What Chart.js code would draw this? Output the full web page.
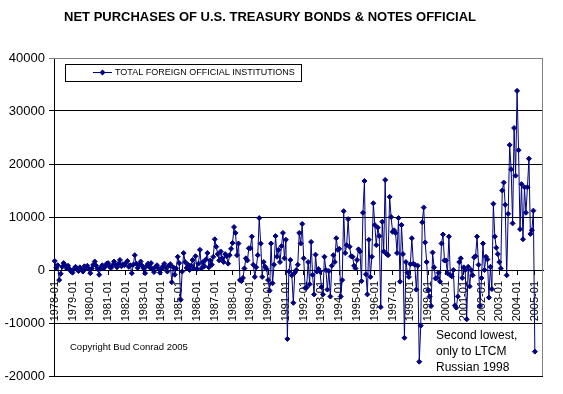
<!DOCTYPE html>
<html>
<head>
<meta charset="utf-8">
<script src="https://cdn.jsdelivr.net/npm/chart.js@4.4.0/dist/chart.umd.min.js"></script>
<style>
    html, body { margin: 0; padding: 0; background: #fff; }
    #wrap { width: 563px; height: 394px; }
</style>
</head>
<body>
<div id="wrap"><canvas id="chart1" width="563" height="394"></canvas></div>
<script>
var titulo = 'NET PURCHASES OF U.S. TREASURY BONDS & NOTES OFFICIAL';
var nomeSerie = 'TOTAL FOREIGN OFFICIAL INSTITUTIONS';
var copyright = 'Copyright Bud Conrad 2005';
var nota = ['Second lowest,', 'only to LTCM', 'Russian 1998'];

var primeiroAno = 1978;
var totalCategorias = 330; // o eixo do Excel segue alguns meses depois do ultimo dado
var yMin = -20000;
var yMax = 40000;
var yPasso = 10000;

// compras liquidas mensais (US$ milhoes), uma linha por ano, 1978-01 .. 2005-01
var compras = [
    1700, 400, 900, -1900, -700, 600, 1300, 900, 300, 800, 200, -300,
    -500, 200, 600, 300, -200, 500, 100, -300, 700, 300, 800, 200,
    -600, 300, 1000, 1600, 800, 200, -900, 400, 900, 300, 700, 1200,
    1300, 600, 400, 900, 1600, 1000, 500, 1200, 1900, 700, 1100, 900,
    1300, 1700, 600, 900, -600, 1000, 2800, 1200, 400, 1000, 1600, 800,
    300, -600, 800, 1200, 500, 1300, 200, -400, 600, 900, 300, -500,
    200, 700, 1200, 400, -300, 800, 1100, -2300, 500, -900, 300, 2500,
    1300, -5600, -300, 3200, 1500, 400, 1000, 0, 800, 1900, 300, 2600,
    200, 1200, 3800, 300, 1500, 700, 2000, 3200, 500, 1800, 1000, 2500,
    5800, 4400, 3000, 1800, 3500, 2200, 1500, 3000, 2600, 1200, 2800, 4000,
    5100, 8100, 7000, 2800, 5000, -1900, -2100, -1500, 300, 2200, 1800, 4100,
    4100, 6300, 1000, -1300, 500, 2800, 9800, 5000, -1300, 1500, 600, 200,
    -1900, -3900, 5000, -2500, 1000, 6400, 2500, 3800, 1500, 4500, 7000, 2200,
    5700, -13000, -300, 1900, -1000, -6200, -500, 0, 1000, 7000, 5000, 8700,
    2200, -3400, -3300, 1500, -2700, 5300, -900, -4600, 2900, -300, 200, -300,
    -3200, -4600, 2500, 0, -3700, -200, -5000, 800, 2800, 1500, 6000, 3800,
    4000, -5000, -1900, 11100, 3200, 4700, 9600, 4400, 2600, 2500, 800, 300,
    1900, 3900, 3500, -2100, 10800, 16800, -800, -4600, 5700, -1300, 2500, 12600,
    8500, 4700, 8000, 6400, -7000, 9100, 3500, 17000, 3000, 2800, 13800, 10000,
    7200, 7500, 7000, 3200, 9800, -2200, 8500, 3000, -12800, 1500, -500, -1300,
    1100, 6000, 1200, 1000, -3700, 800, -17300, -10500, 9000, 11800, 5200, 1500,
    -3800, -5000, -6800, 3300, 500, -1600, -1500, -500, -2200, 5000, 6700, 1800,
    1800, -600, 6300, -1000, -1200, 0, -6700, -7100, -5000, 1500, 2200, -1500,
    500, 0, -9300, 600, -3100, 0, -1000, 2400, 2600, 6300, 1000, -6800,
    -1500, 5000, 0, 2500, 2000, -5200, 600, -3600, 12500, 6300, 4200, 3000,
    1500, 300, 15000, 16500, 12300, -1000, 10600, 23600, 19000, 8800, 26800, 17800,
    33800, 22600, 7700, 16200, 5800, 15600, 10800, 15600, 21000, 6800, 7500, 11200,
    -15400
];

var corSerie = '#000080';
var fonte = '"Liberation Sans", Arial, sans-serif';

// rotulos AAAA-MM para cada categoria
var categorias = [];
for (var i = 0; i < totalCategorias; i++) {
    var ano = primeiroAno + Math.floor(i / 12);
    var mes = (i % 12) + 1;
    categorias.push(ano + '-' + (mes < 10 ? '0' + mes : mes));
}

// moldura cinza da area de plotagem (estilo Excel)
var moldura = {
    id: 'moldura',
    beforeDatasetsDraw: function (chart) {
        var a = chart.chartArea;
        var ctx = chart.ctx;
        ctx.save();
        ctx.strokeStyle = '#808080';
        ctx.lineWidth = 1;
        ctx.beginPath();
        ctx.moveTo(a.left, a.top + 0.5);
        ctx.lineTo(a.right - 0.5, a.top + 0.5);
        ctx.lineTo(a.right - 0.5, a.bottom);
        ctx.stroke();
        ctx.restore();
    }
};

// titulo, legenda e notas de texto
var textos = {
    id: 'textos',
    afterDraw: function (chart) {
        var ctx = chart.ctx;
        ctx.save();
        ctx.fillStyle = '#000';
        ctx.textBaseline = 'middle';

        ctx.font = 'bold 13px ' + fonte;
        ctx.textAlign = 'center';
        ctx.fillText(titulo, 270, 17);

        // caixa da legenda
        ctx.fillStyle = '#fff';
        ctx.fillRect(65, 64, 236, 17);
        ctx.strokeStyle = '#000';
        ctx.lineWidth = 1;
        ctx.strokeRect(65.5, 64.5, 236, 17);
        ctx.strokeStyle = corSerie;
        ctx.beginPath();
        ctx.moveTo(93, 72.5);
        ctx.lineTo(112, 72.5);
        ctx.stroke();
        ctx.fillStyle = corSerie;
        ctx.beginPath();
        ctx.moveTo(102.5, 69.5);
        ctx.lineTo(105.5, 72.5);
        ctx.lineTo(102.5, 75.5);
        ctx.lineTo(99.5, 72.5);
        ctx.closePath();
        ctx.fill();
        ctx.fillStyle = '#000';
        ctx.font = '9px ' + fonte;
        ctx.textAlign = 'left';
        ctx.fillText(nomeSerie, 115, 73);

        ctx.font = '9.5px ' + fonte;
        ctx.fillText(copyright, 70, 347);

        ctx.font = '12px ' + fonte;
        for (var k = 0; k < nota.length; k++) {
            ctx.fillText(nota[k], 436, 336 + k * 16);
        }
        ctx.restore();
    }
};

var ctx1 = document.getElementById('chart1').getContext('2d');
var chart1 = new Chart(ctx1, {
    type: 'line',
    data: {
        labels: categorias,
        datasets: [{
            label: nomeSerie,
            data: compras,
            borderColor: corSerie,
            backgroundColor: corSerie,
            borderWidth: 1,
            pointStyle: 'rectRot',
            pointRadius: 2.5,
            pointBorderWidth: 1,
            tension: 0,
            fill: false
        }]
    },
    options: {
        responsive: false,
        animation: false,
        devicePixelRatio: 1,
        events: [],
        layout: {
            padding: { left: 0, right: 20, top: 58, bottom: 18 }
        },
        plugins: {
            legend: { display: false },
            title: { display: false },
            tooltip: { enabled: false }
        },
        scales: {
            x: {
                type: 'category',
                position: { y: 0 },
                offset: true,
                grid: {
                    display: true,
                    drawOnChartArea: false,
                    drawTicks: true,
                    tickLength: 4,
                    color: '#000'
                },
                border: { display: true, color: '#000' },
                ticks: {
                    autoSkip: false,
                    minRotation: 90,
                    maxRotation: 90,
                    padding: 7,
                    color: '#000',
                    font: { family: fonte, size: 11 },
                    callback: function (value, index) {
                        return index % 12 === 0 ? this.getLabelForValue(value) : null;
                    }
                }
            },
            y: {
                min: yMin,
                max: yMax,
                afterFit: function (scale) {
                    scale.width = 54;
                },
                grid: {
                    color: function (c) {
                        return c.tick.value === yMax ? '#808080' : '#000';
                    },
                    tickLength: 5,
                    drawTicks: true
                },
                border: { display: true, color: '#000' },
                ticks: {
                    stepSize: yPasso,
                    padding: 4,
                    color: '#000',
                    font: { family: fonte, size: 13 },
                    callback: function (value) {
                        return String(value);
                    }
                }
            }
        }
    },
    plugins: [moldura, textos]
});
</script>
</body>
</html>
